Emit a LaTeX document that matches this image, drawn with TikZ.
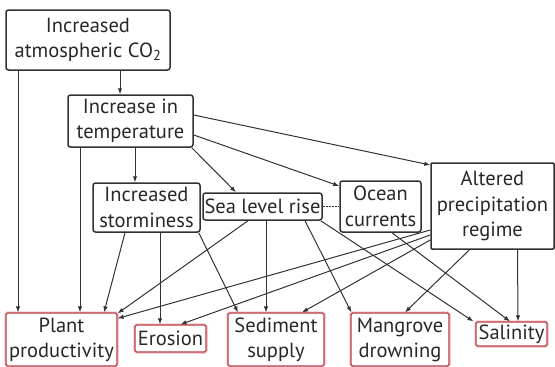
\documentclass[tikz,border=0pt]{standalone}
\usepackage{fontspec}
\setmainfont{PT Sans}
\usetikzlibrary{arrows.meta}
\definecolor{txt}{RGB}{40,40,40}
\definecolor{boxc}{RGB}{50,50,50}
\definecolor{redb}{RGB}{185,60,70}
\definecolor{halo}{RGB}{245,205,210}
\tikzset{
  cause/.style={draw=boxc, line width=1.5pt, rounded corners=2.5pt, fill=white, text=txt,
    align=center, inner sep=0pt, font=\fontsize{20.5}{25.5}\selectfont},
  effect/.style={draw=redb, line width=1.2pt, rounded corners=1.5pt, fill=white, text=txt,
    align=center, inner sep=0pt, font=\fontsize{20.5}{25}\selectfont,
    preaction={draw=halo, line width=3.5pt}},
  link/.style={draw=boxc, line width=1pt, -{Latex[length=6pt,width=4.5pt]}},
}
\begin{document}
\begin{tikzpicture}[x=1pt,y=-1pt]
\useasboundingbox (0,0) rectangle (555,367);
\node[cause, minimum width=164pt, minimum height=60pt] (co2) at (88,40) {Increased\\atmospheric CO\textsubscript{2}};
\node[cause, minimum width=125pt, minimum height=52pt] (temp) at (130.5,121) {Increase in\\temperature};
\node[cause, minimum width=107pt, minimum height=49pt] (storm) at (146.5,207.5) {Increased\\storminess};
\node[cause, minimum width=119pt, minimum height=27pt] (sea) at (262.5,206.5) {Sea level rise};
\node[cause, minimum width=81pt, minimum height=51pt] (ocean) at (380.5,206.5) {Ocean\\currents};
\node[cause, minimum width=123pt, minimum height=86pt, rounded corners=1pt] (precip) at (492.5,206) {Altered\\precipitation\\regime};
\node[effect, minimum width=111pt, minimum height=53pt] (plant) at (61.5,339.5) {Plant\\productivity};
\node[effect, minimum width=71pt, minimum height=27pt] (erosion) at (170.5,338.5) {Erosion};
\node[effect, minimum width=96pt, minimum height=53pt] (sediment) at (276,339.5) {Sediment\\supply};
\node[effect, minimum width=98pt, minimum height=53pt] (mangrove) at (400,339.5) {Mangrove\\drowning};
\node[effect, minimum width=71pt, minimum height=24pt] (salinity) at (511.5,334) {Salinity};

\draw[link] ([xshift=-70pt]co2.south) -- ([xshift=-43.5pt]plant.north);
\draw[link] ([xshift=32pt]co2.south) -- ([xshift=-10.5pt]temp.north);
\draw[link] ([xshift=-50.5pt]temp.south) -- ([xshift=18.5pt]plant.north);
\draw[link] ([xshift=4.5pt]temp.south) -- ([xshift=-11.5pt]storm.north);
\draw[link] ([xshift=-2pt]temp.south east) -- ([xshift=-26.5pt]sea.north);
\draw[link] ([yshift=-14pt]temp.east) -- ([yshift=20.5pt]ocean.west);
\draw[link] ([yshift=6pt]temp.east) -- ([yshift=41pt]precip.west);
\draw[link] ([xshift=-21.5pt]storm.south) -- ([xshift=42.5pt]plant.north);
\draw[link] ([xshift=13.5pt]storm.south) -- ([xshift=-10.5pt]erosion.north);
\draw[link] ([xshift=-2pt]storm.south east) -- ([xshift=-38pt]sediment.north);
\draw[link] ([xshift=-14.5pt]sea.south) -- ([yshift=-1pt]plant.north east);
\draw[link] ([xshift=3.5pt]sea.south) -- ([xshift=-10pt]sediment.north);
\draw[link] ([xshift=42.5pt]sea.south) -- ([xshift=1pt]mangrove.north west);
\draw[link] ([xshift=-2pt]sea.south east) -- ([xshift=-2pt]salinity.north west);
\draw[link] ([xshift=11.5pt]ocean.south) -- ([xshift=-1.5pt]salinity.north);
\draw[link] ([yshift=-24pt]precip.west) -- ([yshift=-6pt]plant.north east);
\draw[link] ([yshift=-29pt]precip.west) -- ([xshift=10pt]erosion.north);
\draw[link] ([yshift=-34pt]precip.west) -- ([xshift=26pt]sediment.north);
\draw[link] ([xshift=-23pt]precip.south) -- ([xshift=5pt]mangrove.north);
\draw[link] ([xshift=25pt]precip.south) -- ([xshift=6.5pt]salinity.north);
\draw[boxc, line width=0.5pt, densely dotted] (sea.east) -- (ocean.west);
\end{tikzpicture}
\end{document}
